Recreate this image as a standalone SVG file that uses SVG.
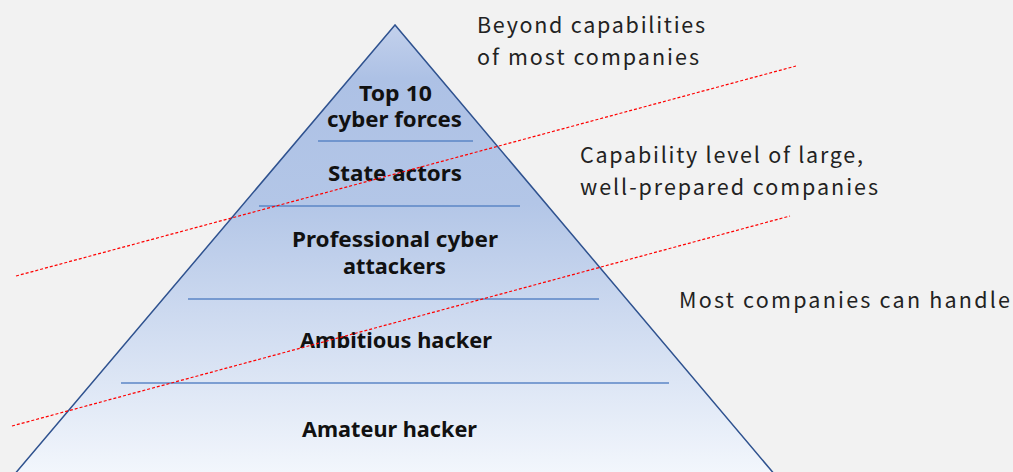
<svg xmlns="http://www.w3.org/2000/svg" width="1013" height="472" viewBox="0 0 1013 472">
<defs>
<linearGradient id="g" x1="0" y1="25" x2="0" y2="472" gradientUnits="userSpaceOnUse">
<stop offset="0" stop-color="#c3d1ec"/>
<stop offset="0.12" stop-color="#adc1e5"/>
<stop offset="0.4" stop-color="#b3c6e7"/>
<stop offset="1" stop-color="#f2f6fc"/>
</linearGradient>
<style>
.lbl{font-family:"Noto Sans","Noto Sans CJK JP",sans-serif;font-weight:bold;font-size:21px;fill:#111}
.note{font-family:"Noto Sans CJK JP","Noto Sans",sans-serif;font-size:21.5px;fill:#222}
.sep{stroke:#5b86c6;stroke-width:1.3}
.red{stroke:#ff0000;stroke-width:1.2;stroke-dasharray:3 2;fill:none}
</style>
</defs>
<rect width="1013" height="472" fill="#f2f2f2"/>
<g id="pyramid">
<polygon points="395,25 8,482 781,482" fill="url(#g)" stroke="#2f528f" stroke-width="1.5"/>
</g>
<g id="separators">
<line class="sep" x1="318" y1="141" x2="473" y2="141"/>
<line class="sep" x1="259" y1="206" x2="520" y2="206"/>
<line class="sep" x1="188" y1="299" x2="599" y2="299"/>
<line class="sep" x1="121" y1="383" x2="669" y2="383"/>
</g>
<g id="tier-top10"><text class="lbl" x="359" y="101" textLength="73" lengthAdjust="spacingAndGlyphs">Top 10</text><text class="lbl" x="327" y="127" textLength="135" lengthAdjust="spacingAndGlyphs">cyber forces</text></g>
<g id="tier-state"><text class="lbl" x="328" y="181" textLength="134" lengthAdjust="spacingAndGlyphs">State actors</text></g>
<g id="tier-pro"><text class="lbl" x="292" y="247" textLength="206" lengthAdjust="spacingAndGlyphs">Professional cyber</text><text class="lbl" x="343" y="274" textLength="103" lengthAdjust="spacingAndGlyphs">attackers</text></g>
<g id="tier-ambitious"><text class="lbl" x="300" y="348" textLength="192" lengthAdjust="spacingAndGlyphs">Ambitious hacker</text></g>
<g id="tier-amateur"><text class="lbl" x="302" y="437" textLength="175" lengthAdjust="spacingAndGlyphs">Amateur hacker</text></g>
<g id="connectors">
<line class="red" x1="16" y1="276" x2="796" y2="66"/>
<line class="red" x1="12" y1="426" x2="790" y2="216"/>
</g>
<g id="note-beyond"><text class="note" x="477" y="33" textLength="228" lengthAdjust="spacing">Beyond capabilities</text><text class="note" x="477" y="65" textLength="222" lengthAdjust="spacing">of most companies</text></g>
<g id="note-large"><text class="note" x="580" y="163" textLength="283" lengthAdjust="spacing">Capability level of large,</text><text class="note" x="580" y="195" textLength="298" lengthAdjust="spacing">well-prepared companies</text></g>
<g id="note-most"><text class="note" x="679" y="308" textLength="331" lengthAdjust="spacing">Most companies can handle</text></g>
</svg>
